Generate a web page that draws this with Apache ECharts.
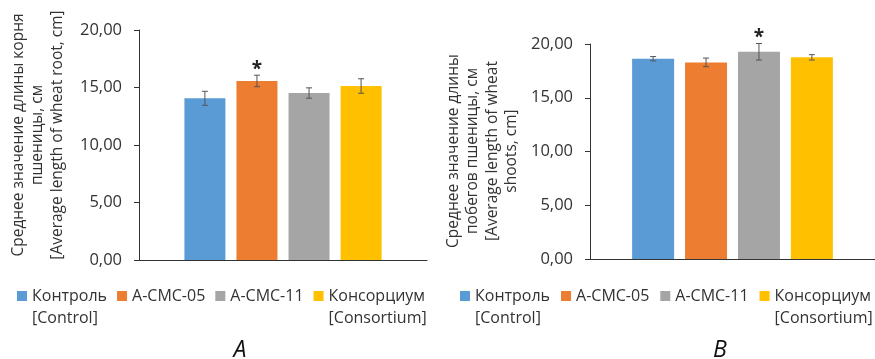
<!DOCTYPE html>
<html><head><meta charset="utf-8">
<script src="https://cdn.jsdelivr.net/npm/echarts@6/dist/echarts.min.js"></script>
<style>html,body{margin:0;padding:0;background:#fff}#c{width:875px;height:359px}</style>
</head><body><div id="c"></div>
<script>
// ---- data ----
const seriesNames = ['Контроль\n[Control]', 'A-CMC-05', 'A-CMC-11', 'Консорциум\n[Consortium]'];
const seriesColors = ['#5B9BD5', '#ED7D31', '#A5A5A5', '#FFC000'];
const rootMeans = [14.06, 15.57, 14.52, 15.13];
const rootErrors = [0.61, 0.50, 0.45, 0.63];
const rootSignificant = [0, 1, 0, 0];
const shootMeans = [18.63, 18.29, 19.28, 18.76];
const shootErrors = [0.20, 0.40, 0.77, 0.25];
const shootSignificant = [0, 0, 1, 0];
const yMin = 0, yMax = 20, yStep = 5;
const rootTitle = ['Среднее значение длины корня', 'пшеницы, см', '[Average length of wheat root, cm]'];
const shootTitle = ['Среднее значение длины', 'побегов пшеницы, см', '[Average length of wheat', 'shoots, cm]'];
const panelLabels = ['A', 'B'];

// ---- layout / style ----
const FONT = 'Open Sans';
const TXT = '#333';
const panels = [
  { grid: { left: 139, right: 448, top: 30, bottom: 99 }, barW: 41, gapPct: 0.27,
    means: rootMeans, errs: rootErrors, sig: rootSignificant, legendLeft: 17, legendGap: 10 },
  { grid: { left: 590, right: -9, top: 44, bottom: 100 }, barW: 42, gapPct: 0.26,
    means: shootMeans, errs: shootErrors, sig: shootSignificant, legendLeft: 460, legendGap: 11 }
];

const grids = [], xAxes = [], yAxes = [], series = [], legends = [];
panels.forEach((p, j) => {
  grids.push(p.grid);
  xAxes.push({ type: 'category', gridIndex: j, data: [''],
    axisLine: { lineStyle: { color: '#333', width: 1 } }, axisTick: { show: false }, axisLabel: { show: false } });
  yAxes.push({ type: 'value', gridIndex: j, min: yMin, max: yMax, interval: yStep,
    splitLine: { show: false },
    axisLine: { show: true, lineStyle: { color: '#333', width: 1 } },
    axisTick: { show: true, length: 5, lineStyle: { color: '#333' } },
    axisLabel: { fontSize: 16.5, fontFamily: FONT, color: TXT, margin: 17,
      formatter: v => v.toFixed(2).replace('.', ',') } });
  seriesNames.forEach((name, i) => {
    series.push({ type: 'bar', name, xAxisIndex: j, yAxisIndex: j, data: [p.means[i]],
      barWidth: p.barW, barGap: (p.gapPct * 100) + '%',
      itemStyle: { color: seriesColors[i] }, emphasis: { disabled: true }, animation: false });
  });
  series.push({
    type: 'custom', name: 'err' + j, xAxisIndex: j, yAxisIndex: j, z: 5, animation: false,
    encode: { x: 0, y: 1 },
    data: p.means.map((m, i) => [0, m, p.errs[i], p.sig[i], i]),
    renderItem: (params, api) => {
      const i = api.value(4), m = api.value(1), e = api.value(2), s = api.value(3);
      const n = seriesNames.length, w = p.barW, gap = w * p.gapPct;
      const total = n * w + (n - 1) * gap;
      const cx = api.coord([0, m])[0] - total / 2 + i * (w + gap) + w / 2;
      const yT = api.coord([0, m + e])[1], yB = api.coord([0, m - e])[1];
      const ls = { stroke: '#555', lineWidth: 1 };
      const ch = [
        { type: 'line', shape: { x1: cx, y1: yT, x2: cx, y2: yB }, style: ls },
        { type: 'line', shape: { x1: cx - 3, y1: yT, x2: cx + 3, y2: yT }, style: ls },
        { type: 'line', shape: { x1: cx - 3, y1: yB, x2: cx + 3, y2: yB }, style: ls }
      ];
      if (s) ch.push({ type: 'text', x: cx, y: yT - 6,
        style: { text: '*', fontSize: 19, fontWeight: 'bold', fontFamily: FONT, fill: '#222',
          align: 'center', verticalAlign: 'middle' } });
      return { type: 'group', children: ch };
    }
  });
  legends.push({ left: p.legendLeft, top: 285, width: 420, padding: 0, data: seriesNames,
    icon: 'path://M0,0L10,0L10,10L0,10Z M0,32L0.01,32',
    itemWidth: 10, itemHeight: 32, itemGap: p.legendGap, selectedMode: false,
    formatter: name => name.indexOf('\n') >= 0 ? name : name + '\n ',
    textStyle: { fontSize: 16, fontFamily: FONT, color: TXT, lineHeight: 22 } });
});

const titleText = (lines, x, y) => ({ type: 'text', x, y, rotation: Math.PI / 2,
  style: { text: lines.join('\n'), fontSize: 15.5, lineHeight: 19.5, fontFamily: FONT, fill: TXT,
    align: 'center', verticalAlign: 'middle' } });
const letter = (t, x) => ({ type: 'text', x, y: 350,
  style: { text: t, fontSize: 23, fontStyle: 'italic', fontFamily: FONT, fill: '#111',
    align: 'center', verticalAlign: 'middle' } });

const chart = echarts.init(document.getElementById('c'), null, { renderer: 'canvas' });
chart.setOption({
  animation: false,
  grid: grids, xAxis: xAxes, yAxis: yAxes, series, legend: legends,
  graphic: [titleText(rootTitle, 38, 135), titleText(shootTitle, 482.5, 151),
    letter(panelLabels[0], 240), letter(panelLabels[1], 720)]
});
</script></body></html>
